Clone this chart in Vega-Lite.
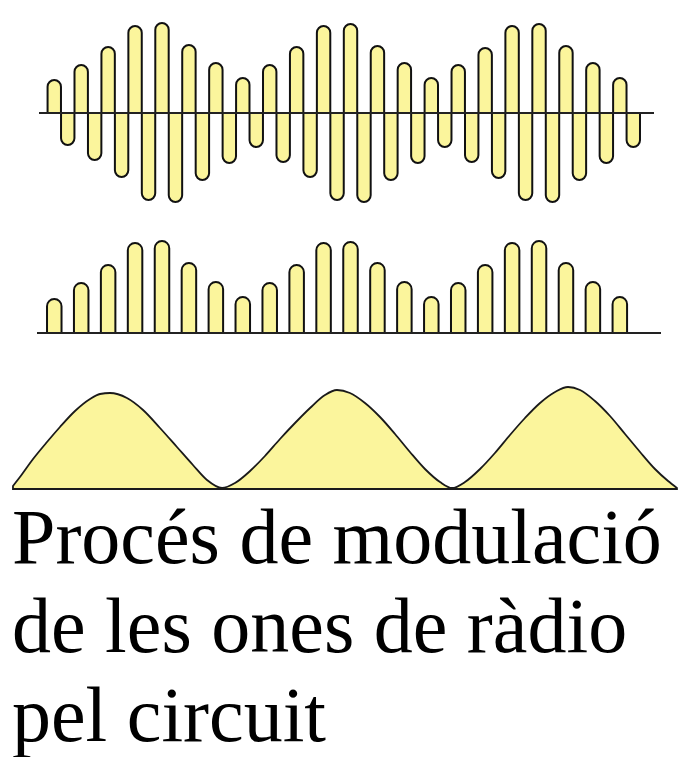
{
  "$schema": "https://vega.github.io/schema/vega-lite/v6.json",
  "padding": 0,
  "background": "white",
  "config": {"view": {"stroke": null}, "concat": {"spacing": 0}},
  "datasets": {
    "carrier": [
      {"t": 0, "amp": 33}, {"t": 1, "amp": -32}, {"t": 2, "amp": 48}, {"t": 3, "amp": -47},
      {"t": 4, "amp": 66}, {"t": 5, "amp": -64}, {"t": 6, "amp": 87}, {"t": 7, "amp": -87},
      {"t": 8, "amp": 90}, {"t": 9, "amp": -89}, {"t": 10, "amp": 68}, {"t": 11, "amp": -67},
      {"t": 12, "amp": 50}, {"t": 13, "amp": -50}, {"t": 14, "amp": 35}, {"t": 15, "amp": -34},
      {"t": 16, "amp": 48}, {"t": 17, "amp": -49}, {"t": 18, "amp": 66}, {"t": 19, "amp": -64},
      {"t": 20, "amp": 87}, {"t": 21, "amp": -87}, {"t": 22, "amp": 89}, {"t": 23, "amp": -89},
      {"t": 24, "amp": 67}, {"t": 25, "amp": -67}, {"t": 26, "amp": 50}, {"t": 27, "amp": -50},
      {"t": 28, "amp": 35}, {"t": 29, "amp": -34}, {"t": 30, "amp": 48}, {"t": 31, "amp": -49},
      {"t": 32, "amp": 65}, {"t": 33, "amp": -65}, {"t": 34, "amp": 87}, {"t": 35, "amp": -87},
      {"t": 36, "amp": 89}, {"t": 37, "amp": -89}, {"t": 38, "amp": 67}, {"t": 39, "amp": -67},
      {"t": 40, "amp": 50}, {"t": 41, "amp": -50}, {"t": 42, "amp": 35}, {"t": 43, "amp": -34}
    ],
    "rectified": [
      {"t": 0, "amp": 34}, {"t": 2, "amp": 50}, {"t": 4, "amp": 68}, {"t": 6, "amp": 90},
      {"t": 8, "amp": 92}, {"t": 10, "amp": 70}, {"t": 12, "amp": 51}, {"t": 14, "amp": 36},
      {"t": 16, "amp": 50}, {"t": 18, "amp": 68}, {"t": 20, "amp": 90}, {"t": 22, "amp": 91},
      {"t": 24, "amp": 70}, {"t": 26, "amp": 51}, {"t": 28, "amp": 36}, {"t": 30, "amp": 50},
      {"t": 32, "amp": 68}, {"t": 34, "amp": 90}, {"t": 36, "amp": 92}, {"t": 38, "amp": 70},
      {"t": 40, "amp": 51}, {"t": 42, "amp": 36}
    ],
    "envelope": [
      {"t": -2.71, "h": 3}, {"t": -2.2, "h": 12}, {"t": -1.24, "h": 30}, {"t": -0.22, "h": 47},
      {"t": 0.73, "h": 62}, {"t": 1.83, "h": 78}, {"t": 2.93, "h": 90}, {"t": 3.66, "h": 95},
      {"t": 4.39, "h": 96}, {"t": 5.63, "h": 91}, {"t": 6.81, "h": 79}, {"t": 8.05, "h": 61},
      {"t": 9.29, "h": 42}, {"t": 10.46, "h": 24}, {"t": 11.49, "h": 9}, {"t": 12.59, "h": 1},
      {"t": 13.54, "h": 6}, {"t": 14.64, "h": 18}, {"t": 15.73, "h": 33}, {"t": 16.83, "h": 50},
      {"t": 17.93, "h": 66}, {"t": 19.03, "h": 81}, {"t": 20.12, "h": 94}, {"t": 21.0, "h": 99},
      {"t": 21.95, "h": 96}, {"t": 23.05, "h": 86}, {"t": 24.15, "h": 72}, {"t": 25.25, "h": 55},
      {"t": 26.34, "h": 37}, {"t": 27.44, "h": 20}, {"t": 28.54, "h": 7}, {"t": 29.42, "h": 1},
      {"t": 30.37, "h": 7}, {"t": 31.47, "h": 20}, {"t": 32.56, "h": 36}, {"t": 33.66, "h": 54},
      {"t": 34.76, "h": 71}, {"t": 35.86, "h": 86}, {"t": 36.96, "h": 97}, {"t": 37.91, "h": 102},
      {"t": 38.79, "h": 99}, {"t": 39.88, "h": 88}, {"t": 40.98, "h": 73}, {"t": 42.08, "h": 55},
      {"t": 43.18, "h": 37}, {"t": 44.27, "h": 20}, {"t": 45.23, "h": 8}, {"t": 45.88, "h": 1}
    ]
  },
  "title": {
    "text": ["Procés de modulació", "de les ones de ràdio", "pel circuit"],
    "orient": "bottom",
    "anchor": "start",
    "frame": "group",
    "font": "Liberation Serif",
    "fontSize": 78,
    "fontWeight": "normal",
    "color": "#000000",
    "lineHeight": 89,
    "baseline": "top",
    "offset": 6,
    "dx": 12
  },
  "vconcat": [
    {
      "width": 685,
      "height": 220,
      "data": {"name": "carrier"},
      "encoding": {
        "x": {"field": "t", "type": "quantitative", "scale": {"domain": [-3.659, 46.469], "nice": false, "zero": false}, "axis": null},
        "y": {"field": "amp", "type": "quantitative", "scale": {"domain": [-107, 113], "nice": false, "zero": false}, "axis": null}
      },
      "layer": [
        {
          "transform": [{"filter": "datum.amp >= 0"}],
          "mark": {"type": "bar", "width": 13.4, "fill": "#fbf59c", "stroke": "#111111", "strokeWidth": 2, "cornerRadiusTopLeft": 6.7, "cornerRadiusTopRight": 6.7, "opacity": 1},
          "encoding": {"y2": {"datum": 0}}
        },
        {
          "transform": [{"filter": "datum.amp < 0"}],
          "mark": {"type": "bar", "width": 13.4, "fill": "#fbf59c", "stroke": "#111111", "strokeWidth": 2, "cornerRadiusBottomLeft": 6.7, "cornerRadiusBottomRight": 6.7, "opacity": 1},
          "encoding": {"y2": {"datum": 0}}
        },
        {
          "mark": {"type": "rule", "color": "#222222", "strokeWidth": 2},
          "encoding": {"x": {"datum": -1.1}, "x2": {"datum": 44.5}, "y": {"datum": 0}}
        }
      ]
    },
    {
      "width": 685,
      "height": 120,
      "data": {"name": "rectified"},
      "encoding": {
        "x": {"field": "t", "type": "quantitative", "scale": {"domain": [-3.659, 46.469], "nice": false, "zero": false}, "axis": null},
        "y": {"field": "amp", "type": "quantitative", "scale": {"domain": [-7, 113], "nice": false, "zero": false}, "axis": null}
      },
      "layer": [
        {
          "mark": {"type": "bar", "width": 14.5, "fill": "#fbf59c", "stroke": "#111111", "strokeWidth": 2, "cornerRadiusTopLeft": 7.2, "cornerRadiusTopRight": 7.2, "opacity": 1},
          "encoding": {"y2": {"datum": 0}}
        },
        {
          "mark": {"type": "rule", "color": "#222222", "strokeWidth": 2},
          "encoding": {"x": {"datum": -1.24}, "x2": {"datum": 45.0}, "y": {"datum": 0}}
        }
      ]
    },
    {
      "width": 685,
      "height": 155,
      "data": {"name": "envelope"},
      "layer": [
        {
          "mark": {"type": "area", "fill": "#fbf59c", "stroke": "#1a1a1a", "strokeWidth": 1.8, "interpolate": "monotone", "opacity": 1},
          "encoding": {
            "x": {"field": "t", "type": "quantitative", "scale": {"domain": [-3.659, 46.469], "nice": false, "zero": false}, "axis": null},
            "y": {"field": "h", "type": "quantitative", "scale": {"domain": [-6, 149], "nice": false, "zero": false}, "axis": null},
            "y2": {"datum": 0}
          }
        }
      ]
    }
  ]
}
